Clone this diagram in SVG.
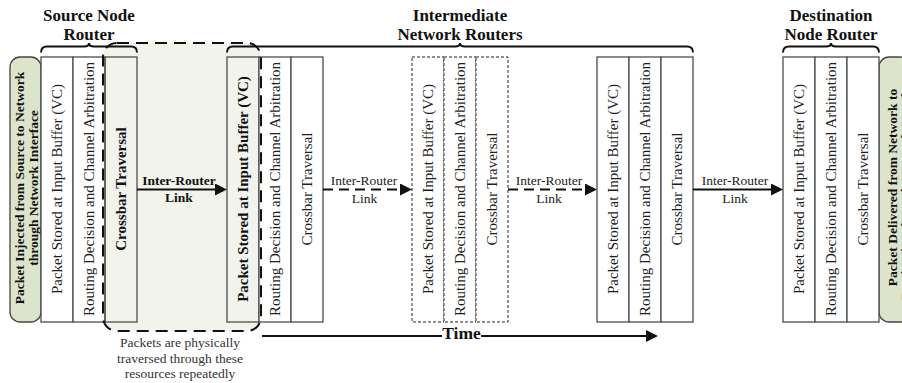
<svg xmlns="http://www.w3.org/2000/svg" width="902" height="383" viewBox="0 0 902 383" font-family="'Liberation Serif', 'Times New Roman', serif">
  <style>
    text { font-family: "Liberation Serif", "Times New Roman", serif; }
    .col { fill: #fff; stroke: #4d4d4d; stroke-width: 1.3; }
    .col-hl { fill: none; stroke: #4d4d4d; stroke-width: 1.3; }
    .col-ghost { fill: #fff; stroke: #222; stroke-width: 1; stroke-dasharray: 3 2; }
    .stage { font-size: 15px; fill: #1e1e1e; text-anchor: middle; }
    .stage-b { font-weight: bold; fill: #111; }
    .iface { fill: #dde4cc; stroke: #444; stroke-width: 1.3; }
    .iface-t { font-size: 13.5px; font-weight: bold; fill: #111; text-anchor: middle; }
    .brace { fill: none; stroke: #111; stroke-width: 2; }
    .group-t { font-size: 17px; font-weight: bold; fill: #111; text-anchor: middle; }
    .link { stroke: #111; stroke-width: 2; fill: none; }
    .link-d { stroke-dasharray: 10 6; }
    .link-t { font-size: 13.5px; fill: #222; text-anchor: middle; }
    .link-tb { font-weight: bold; fill: #111; }
    .loop { fill: #f2f3ed; }
    .loop-edge { fill: none; stroke: #111; stroke-width: 2; stroke-dasharray: 12 7; }
    .note { font-size: 13.5px; fill: #333; text-anchor: middle; }
    .time-t { font-size: 17.5px; font-weight: bold; fill: #111; text-anchor: middle; }
  </style>
  <defs>
    <marker id="head" markerWidth="12" markerHeight="12" refX="6" refY="6" orient="auto" markerUnits="userSpaceOnUse">
      <path d="M0,0 L12,6 L0,12 z" fill="#111"/>
    </marker>
  </defs>

  <!-- shaded region: resources the packet passes through repeatedly -->
  <rect class="loop" x="103" y="43" width="158" height="288" rx="14"/>

  <!-- network interface blocks -->
  <g id="src-iface">
    <rect class="iface" x="10" y="57" width="31" height="265" rx="10"/>
    <text class="iface-t" transform="translate(23.5,188) rotate(-90)">Packet Injected from Source to Network</text>
    <text class="iface-t" transform="translate(37.5,188) rotate(-90)">through Network Interface</text>
  </g>
  <g id="dst-iface">
    <rect class="iface" x="879" y="57" width="31" height="265" rx="10"/>
    <text class="iface-t" transform="translate(896.5,187.5) rotate(-90)">Packet Delivered from Network to</text>
    <text class="iface-t" transform="translate(909.5,187.5) rotate(-90)">Destination through Network Interface</text>
  </g>

  <!-- source router -->
  <g id="src-router">
    <rect class="col" x="41" y="57" width="32" height="265"/>
    <rect class="col" x="73" y="57" width="32" height="265"/>
    <rect class="col-hl" x="105" y="57" width="32" height="265"/>
    <text class="stage" transform="translate(62,189) rotate(-90)">Packet Stored at Input Buffer (VC)</text>
    <text class="stage" transform="translate(94,189) rotate(-90)">Routing Decision and Channel Arbitration</text>
    <text class="stage stage-b" transform="translate(126,189) rotate(-90)">Crossbar Traversal</text>
  </g>

  <!-- intermediate router 1 -->
  <g id="mid-router-1">
    <rect class="col-hl" x="227" y="57" width="32" height="265"/>
    <rect class="col" x="259" y="57" width="32" height="265"/>
    <rect class="col" x="291" y="57" width="32" height="265"/>
    <text class="stage stage-b" transform="translate(248,189) rotate(-90)">Packet Stored at Input Buffer (VC)</text>
    <text class="stage" transform="translate(280,189) rotate(-90)">Routing Decision and Channel Arbitration</text>
    <text class="stage" transform="translate(312,189) rotate(-90)">Crossbar Traversal</text>
  </g>

  <!-- intermediate routers in between (elided) -->
  <g id="mid-router-n">
    <rect class="col-ghost" x="412" y="57" width="32" height="265"/>
    <rect class="col-ghost" x="444" y="57" width="32" height="265"/>
    <rect class="col-ghost" x="476" y="57" width="32" height="265"/>
    <text class="stage" transform="translate(433,189) rotate(-90)">Packet Stored at Input Buffer (VC)</text>
    <text class="stage" transform="translate(465,189) rotate(-90)">Routing Decision and Channel Arbitration</text>
    <text class="stage" transform="translate(497,189) rotate(-90)">Crossbar Traversal</text>
  </g>

  <!-- last intermediate router -->
  <g id="mid-router-2">
    <rect class="col" x="597" y="57" width="32" height="265"/>
    <rect class="col" x="629" y="57" width="32" height="265"/>
    <rect class="col" x="661" y="57" width="32" height="265"/>
    <text class="stage" transform="translate(618,189) rotate(-90)">Packet Stored at Input Buffer (VC)</text>
    <text class="stage" transform="translate(650,189) rotate(-90)">Routing Decision and Channel Arbitration</text>
    <text class="stage" transform="translate(682,189) rotate(-90)">Crossbar Traversal</text>
  </g>

  <!-- destination router -->
  <g id="dst-router">
    <rect class="col" x="783" y="57" width="32" height="265"/>
    <rect class="col" x="815" y="57" width="32" height="265"/>
    <rect class="col" x="847" y="57" width="32" height="265"/>
    <text class="stage" transform="translate(804,189) rotate(-90)">Packet Stored at Input Buffer (VC)</text>
    <text class="stage" transform="translate(836,189) rotate(-90)">Routing Decision and Channel Arbitration</text>
    <text class="stage" transform="translate(868,189) rotate(-90)">Crossbar Traversal</text>
  </g>

  <!-- dashed outline of the repeated region -->
  <g id="loop-region">
    <rect class="loop-edge" x="103" y="43" width="158" height="288" rx="14"/>
    <text class="note" x="180" y="347">Packets are physically</text>
    <text class="note" x="180" y="362.5">traversed through these</text>
    <text class="note" x="180" y="378">resources repeatedly</text>
  </g>

  <!-- group braces and titles -->
  <g id="group-labels">
    <path class="brace" d="M41,52.5 Q41,46.5 47,46.5 L84,46.5 Q89,46.5 89,43 Q89,46.5 94,46.5 L131,46.5 Q137,46.5 137,52.5"/>
    <path class="brace" d="M227,52.5 Q227,46.5 233,46.5 L455,46.5 Q460,46.5 460,43 Q460,46.5 465,46.5 L687,46.5 Q693,46.5 693,52.5"/>
    <path class="brace" d="M783,52.5 Q783,46.5 789,46.5 L826,46.5 Q831,46.5 831,43 Q831,46.5 836,46.5 L873,46.5 Q879,46.5 879,52.5"/>
    <text class="group-t" x="89" y="20.5">Source Node</text>
    <text class="group-t" x="89" y="40">Router</text>
    <text class="group-t" x="460" y="20.5">Intermediate</text>
    <text class="group-t" x="460" y="40">Network Routers</text>
    <text class="group-t" x="831" y="20.5">Destination</text>
    <text class="group-t" x="831" y="40">Node Router</text>
  </g>

  <!-- inter-router links and time axis -->
  <g id="connectors">
    <line class="link" x1="137" y1="189.5" x2="221" y2="189.5" marker-end="url(#head)"/>
    <line class="link link-d" x1="323" y1="189.5" x2="406" y2="189.5" marker-end="url(#head)"/>
    <line class="link link-d" x1="508" y1="189.5" x2="591" y2="189.5" marker-end="url(#head)"/>
    <line class="link" x1="693" y1="189.5" x2="777" y2="189.5" marker-end="url(#head)"/>

    <text class="link-t link-tb" x="179" y="185">Inter-Router</text>
    <text class="link-t link-tb" x="179" y="202">Link</text>
    <text class="link-t" x="364" y="185">Inter-Router</text>
    <text class="link-t" x="364.5" y="202.5">Link</text>
    <text class="link-t" x="549" y="185">Inter-Router</text>
    <text class="link-t" x="549" y="202.5">Link</text>
    <text class="link-t" x="735" y="185">Inter-Router</text>
    <text class="link-t" x="735" y="202.5">Link</text>

    <line class="link" x1="262" y1="336" x2="442" y2="336"/>
    <line class="link" x1="481" y1="336" x2="652" y2="336" marker-end="url(#head)"/>
    <text class="time-t" x="461.5" y="338.5">Time</text>
  </g>
</svg>
